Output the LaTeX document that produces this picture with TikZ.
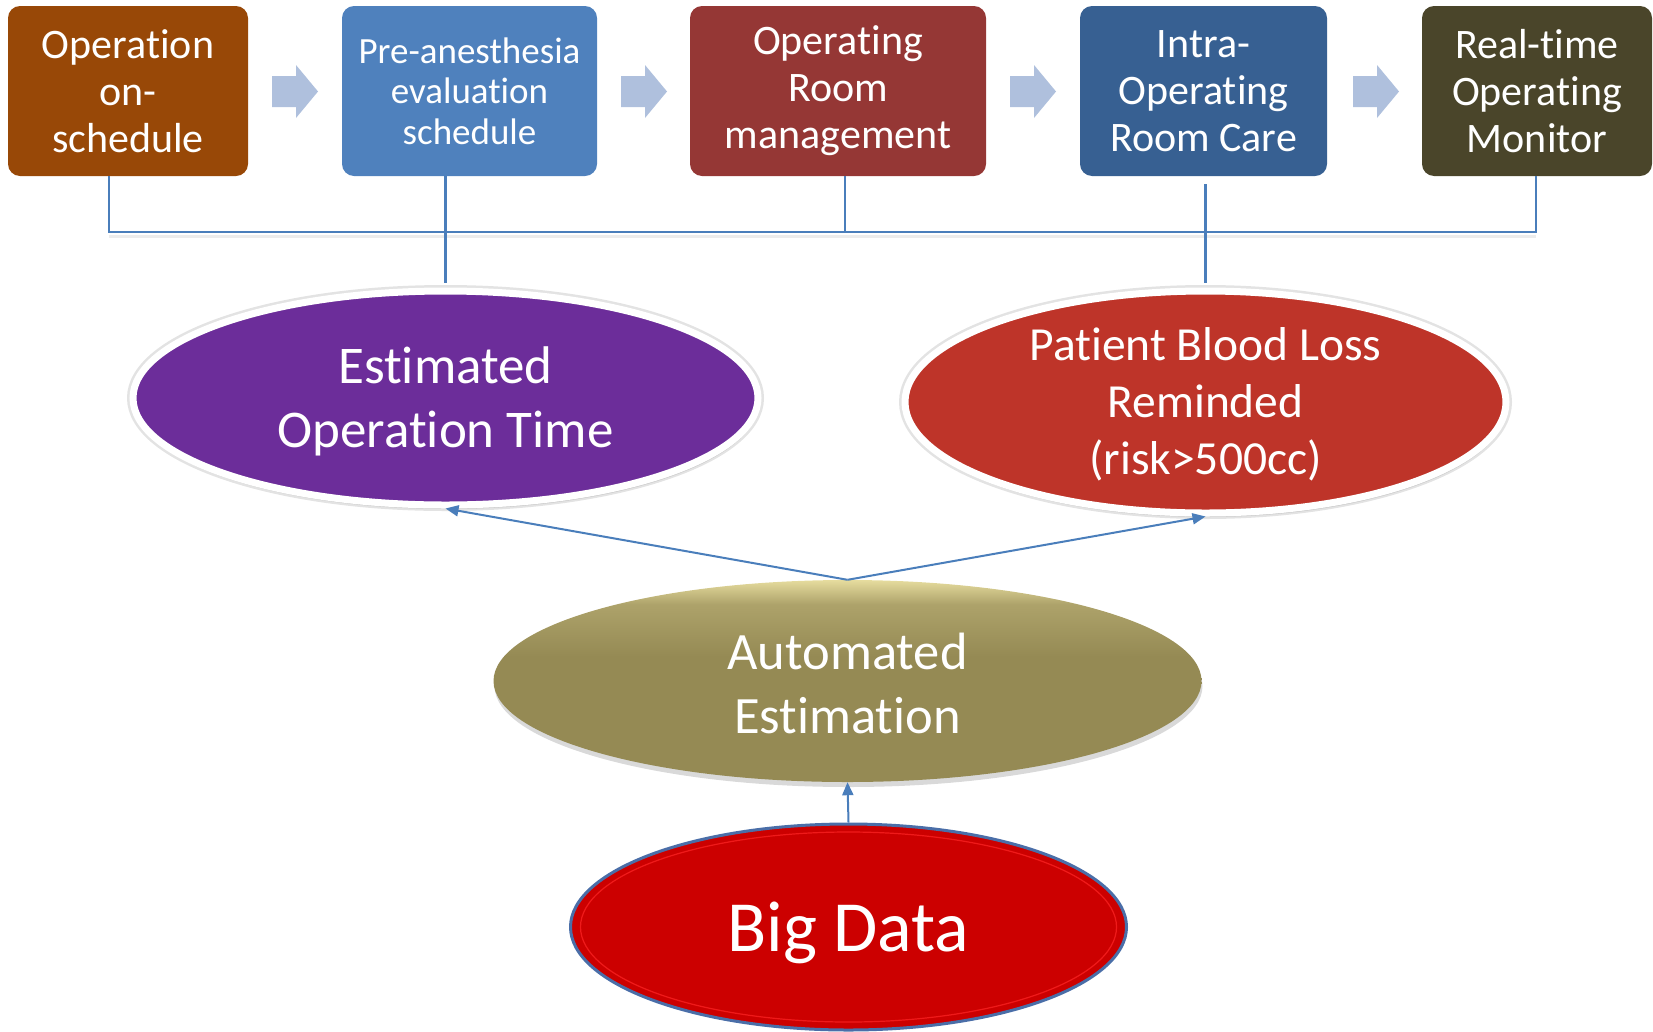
\documentclass[tikz,border=0pt]{standalone}
\usepackage{fontspec}
\setmainfont{Carlito}[Ligatures=CommonOff]
\usetikzlibrary{shapes.geometric,arrows.meta,shadows}
\definecolor{cBrown}{HTML}{984807}
\definecolor{cSky}{HTML}{4F81BD}
\definecolor{cWine}{HTML}{953735}
\definecolor{cNavy}{HTML}{376092}
\definecolor{cOlive}{HTML}{4A452A}
\definecolor{cArrow}{HTML}{AFC0DD}
\definecolor{cLine}{HTML}{4A7EBB}
\definecolor{cPurple}{HTML}{6C2D9A}
\definecolor{cRed}{HTML}{BE3429}
\definecolor{cKhaki}{HTML}{958A54}
\definecolor{cKhakiT}{HTML}{E6DC9E}
\definecolor{cBig}{HTML}{CC0000}
\definecolor{cBigEdge}{HTML}{4A6EA8}
\pgfdeclareverticalshading{khakish}{100bp}{color(0bp)=(cKhaki); color(56bp)=(cKhaki); color(69bp)=(cKhaki!70!cKhakiT); color(75bp)=(cKhakiT); color(100bp)=(cKhakiT)}
\tikzset{
  box/.style={rounded corners=12pt, inner sep=0pt, text=white, align=center,
    minimum height=170pt, font=\fontsize{42}{47}\selectfont},
  rimell/.style={ellipse, inner sep=0pt, draw=white, line width=7pt,
    preaction={draw=gray!22, line width=12pt},
    drop shadow={shadow xshift=1pt, shadow yshift=-4pt, opacity=0.25, fill=gray}},
  etext/.style={text=white, align=center},
  bus/.style={draw=cLine, line width=2.2pt},
  link/.style={draw=cLine, line width=2pt, -{Triangle[length=13pt,width=11pt]}},
  barrow/.style={fill=cArrow, draw=none}
}
\begin{document}
\begin{tikzpicture}[x=1pt,y=-1pt]
\useasboundingbox (0,0) rectangle (1653,1031);

% top boxes
\node[box, fill=cBrown, minimum width=240pt] (b1) at (128,91) {Operation\\on-\\schedule};
\node[box, fill=cSky, minimum width=255pt, font=\fontsize{37}{40.6}\selectfont] (b2) at (469.5,91) {Pre-anesthesia\\evaluation\\schedule};
\node[box, fill=cWine, minimum width=296pt] (b3) at (838,91) {Operating\\Room\\management};
\node[box, fill=cNavy, minimum width=247pt] (b4) at (1203.5,91) {Intra-\\Operating\\Room Care};
\node[box, fill=cOlive, minimum width=230pt] (b5) at (1537,91) {Real-time\\Operating\\Monitor};

% block arrows between boxes
\foreach \x in {272,621,1010,1353}{
  \fill[barrow] (\x,76) -- (\x+24,76) -- (\x+24,65) -- (\x+46,91.5) -- (\x+24,118) -- (\x+24,107) -- (\x,107) -- cycle;
}

% ellipses
\node[rimell, fill=cPurple, minimum width=625pt, minimum height=214pt] (est) at (445.5,398) {};
\node[etext, font=\fontsize{53}{64}\selectfont] (estt) at ([yshift=-3pt]est.center) {Estimated\\Operation Time};

\node[rimell, fill=cRed, minimum width=601pt, minimum height=222pt] (blood) at (1205.5,402) {};
\node[etext, font=\fontsize{47.5}{57}\selectfont] (bloodt) at ([yshift=-2pt]blood.center) {Patient Blood Loss\\Reminded\\(risk>500cc)};

\node[ellipse, inner sep=0pt, shading=khakish, minimum width=708pt, minimum height=202pt,
  drop shadow={shadow xshift=1pt, shadow yshift=-5pt, opacity=0.3, fill=gray}] (auto) at (847.5,681) {};
\node[etext, font=\fontsize{52.5}{64}\selectfont] (autot) at ([yshift=-2pt]auto.center) {Automated\\Estimation};

\node[ellipse, inner sep=0pt, fill=cBig, draw=cBigEdge, line width=3pt,
  minimum width=556pt, minimum height=206pt] (big) at (848.5,927) {};
\draw[red!85!white, line width=1.2pt, opacity=0.7] (848.5,927) ellipse [x radius=268pt, y radius=95pt];
\node[etext, font=\fontsize{72}{80}\selectfont] (bigt) at ([yshift=-6pt]big.center) {Big Data};

% bus line
\coordinate (busy) at (0,232);
\coordinate (d1) at (109,176);
\coordinate (d3) at (845,176);
\coordinate (d5) at (1536,176);
\draw[gray!25, line width=3pt, opacity=0.6] ([yshift=-4pt]d1 |- busy) -- ([yshift=-4pt]d5 |- busy);
\draw[bus] (d1) |- (d5 |- busy) -- (d5);
\draw[bus] (d3) -- (d3 |- busy);
\draw[bus] (est.north |- b2.south) -- ([yshift=5pt]est.north);
\draw[bus] ([yshift=-8pt]blood.north |- b4.south) -- ([yshift=5pt]blood.north);

% arrows
\draw[link] (auto.north) -- (est.south);
\draw[link] (auto.north) -- (blood.south);
\draw[link] (big.north) -- (auto.south);
\end{tikzpicture}
\end{document}
